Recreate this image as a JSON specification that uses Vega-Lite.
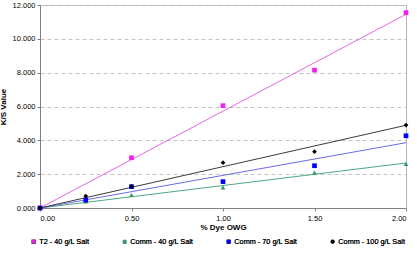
{
  "$schema": "https://vega.github.io/schema/vega-lite/v6.json",
  "autosize": {"type": "none"},
  "width": 366,
  "height": 203,
  "padding": {"left": 40, "top": 5, "right": 11, "bottom": 47},
  "background": "white",
  "config": {
    "font": "Liberation Sans",
    "view": {"stroke": "#b4b4b4", "strokeWidth": 1},
    "axis": {
      "labelFont": "Liberation Sans",
      "labelFontSize": 7.5,
      "labelColor": "#000000",
      "labelOverlap": false,
      "titleFont": "Liberation Sans",
      "titleFontSize": 8,
      "titleFontWeight": "bold",
      "titleColor": "#000000",
      "domainColor": "#808080",
      "tickColor": "#808080",
      "tickSize": 3
    }
  },
  "datasets": {
    "points": [
      {"series": "T2 - 40 g/L Salt", "dye": 0, "ks": 0},
      {"series": "T2 - 40 g/L Salt", "dye": 0.5, "ks": 2.97},
      {"series": "T2 - 40 g/L Salt", "dye": 1.0, "ks": 6.05},
      {"series": "T2 - 40 g/L Salt", "dye": 1.5, "ks": 8.15},
      {"series": "T2 - 40 g/L Salt", "dye": 2.0, "ks": 11.55},
      {"series": "Comm - 40 g/L Salt", "dye": 0, "ks": 0},
      {"series": "Comm - 40 g/L Salt", "dye": 0.25, "ks": 0.38},
      {"series": "Comm - 40 g/L Salt", "dye": 0.5, "ks": 0.77},
      {"series": "Comm - 40 g/L Salt", "dye": 1.0, "ks": 1.22},
      {"series": "Comm - 40 g/L Salt", "dye": 1.5, "ks": 2.09},
      {"series": "Comm - 40 g/L Salt", "dye": 2.0, "ks": 2.6},
      {"series": "Comm - 70 g/L Salt", "dye": 0, "ks": 0},
      {"series": "Comm - 70 g/L Salt", "dye": 0.25, "ks": 0.47},
      {"series": "Comm - 70 g/L Salt", "dye": 0.5, "ks": 1.26},
      {"series": "Comm - 70 g/L Salt", "dye": 1.0, "ks": 1.56},
      {"series": "Comm - 70 g/L Salt", "dye": 1.5, "ks": 2.5},
      {"series": "Comm - 70 g/L Salt", "dye": 2.0, "ks": 4.27},
      {"series": "Comm - 100 g/L Salt", "dye": 0, "ks": 0},
      {"series": "Comm - 100 g/L Salt", "dye": 0.25, "ks": 0.71},
      {"series": "Comm - 100 g/L Salt", "dye": 0.5, "ks": 1.28},
      {"series": "Comm - 100 g/L Salt", "dye": 1.0, "ks": 2.68},
      {"series": "Comm - 100 g/L Salt", "dye": 1.5, "ks": 3.33},
      {"series": "Comm - 100 g/L Salt", "dye": 2.0, "ks": 4.9}
    ],
    "trends": [
      {"series": "T2 - 40 g/L Salt", "dye": 0, "ks": 0},
      {"series": "T2 - 40 g/L Salt", "dye": 2.0, "ks": 11.45},
      {"series": "Comm - 40 g/L Salt", "dye": 0, "ks": 0},
      {"series": "Comm - 40 g/L Salt", "dye": 2.0, "ks": 2.66},
      {"series": "Comm - 70 g/L Salt", "dye": 0, "ks": 0},
      {"series": "Comm - 70 g/L Salt", "dye": 2.0, "ks": 3.86},
      {"series": "Comm - 100 g/L Salt", "dye": 0, "ks": 0},
      {"series": "Comm - 100 g/L Salt", "dye": 2.0, "ks": 4.89}
    ]
  },
  "layer": [
    {
      "mark": {"type": "rule", "color": "#c8c8c8", "strokeWidth": 2.5},
      "encoding": {
        "x": {"datum": 2, "type": "quantitative", "scale": {"domain": [0, 2]}}
      }
    },
    {
      "data": {"name": "trends"},
      "mark": {"type": "line", "strokeWidth": 1, "clip": true},
      "encoding": {
        "x": {
          "field": "dye",
          "type": "quantitative",
          "scale": {"domain": [0, 2], "nice": false},
          "axis": {
            "title": "% Dye OWG",
            "values": [0, 0.5, 1, 1.5, 2],
            "format": ".2f",
            "grid": false,
            "labelOverlap": false,
            "labelPadding": 3,
            "titlePadding": 2
          }
        },
        "y": {
          "field": "ks",
          "type": "quantitative",
          "scale": {"domain": [0, 12], "nice": false},
          "axis": {
            "title": "K/S Value",
            "values": [0, 2, 4, 6, 8, 10, 12],
            "tickCount": 7,
            "format": ".3f",
            "grid": true,
            "gridColor": "#c4c4c4",
            "gridDash": [4, 3],
            "gridWidth": 1,
            "labelOverlap": false,
            "labelBound": false,
            "labelPadding": 2,
            "titlePadding": 5
          }
        },
        "detail": {"field": "series"},
        "color": {
          "field": "series",
          "type": "nominal",
          "legend": null,
          "scale": {
            "domain": ["T2 - 40 g/L Salt", "Comm - 40 g/L Salt", "Comm - 70 g/L Salt", "Comm - 100 g/L Salt"],
            "range": ["#e864e8", "#4ca882", "#6a6ae6", "#3a3a3a"]
          }
        }
      }
    },
    {
      "data": {"name": "points"},
      "mark": {"type": "point", "filled": true, "opacity": 1, "size": 22},
      "encoding": {
        "x": {
          "field": "dye",
          "type": "quantitative",
          "axis": {
            "title": "% Dye OWG",
            "values": [0, 0.5, 1, 1.5, 2],
            "format": ".2f",
            "grid": false,
            "labelOverlap": false,
            "labelPadding": 3,
            "titlePadding": 2
          }
        },
        "y": {
          "field": "ks",
          "type": "quantitative",
          "axis": {
            "title": "K/S Value",
            "values": [0, 2, 4, 6, 8, 10, 12],
            "tickCount": 7,
            "format": ".3f",
            "grid": true,
            "gridColor": "#c4c4c4",
            "gridDash": [4, 3],
            "gridWidth": 1,
            "labelOverlap": false,
            "labelBound": false,
            "labelPadding": 2,
            "titlePadding": 5
          }
        },
        "color": {
          "field": "series",
          "type": "nominal",
          "scale": {
            "domain": ["T2 - 40 g/L Salt", "Comm - 40 g/L Salt", "Comm - 70 g/L Salt", "Comm - 100 g/L Salt"],
            "range": ["#f020f0", "#339966", "#0000ff", "#000000"]
          },
          "legend": {
            "title": null,
            "orient": "none",
            "legendX": -10,
            "legendY": 233,
            "direction": "horizontal",
            "columns": 4,
            "columnPadding": 31,
            "labelFont": "Liberation Sans",
            "labelFontSize": 7.3,
            "labelColor": "#000000",
            "labelOffset": 2,
            "symbolSize": 18,
            "symbolStrokeWidth": 0
          }
        },
        "shape": {
          "field": "series",
          "type": "nominal",
          "scale": {
            "domain": ["T2 - 40 g/L Salt", "Comm - 40 g/L Salt", "Comm - 70 g/L Salt", "Comm - 100 g/L Salt"],
            "range": ["square", "triangle-up", "square", "diamond"]
          },
          "legend": {
            "title": null,
            "orient": "none",
            "legendX": -10,
            "legendY": 233,
            "direction": "horizontal",
            "columns": 4,
            "columnPadding": 31,
            "labelFont": "Liberation Sans",
            "labelFontSize": 7.3,
            "labelColor": "#000000",
            "labelOffset": 2,
            "symbolSize": 18,
            "symbolStrokeWidth": 0
          }
        }
      }
    }
  ],
  "resolve": {"scale": {"color": "independent"}}
}
